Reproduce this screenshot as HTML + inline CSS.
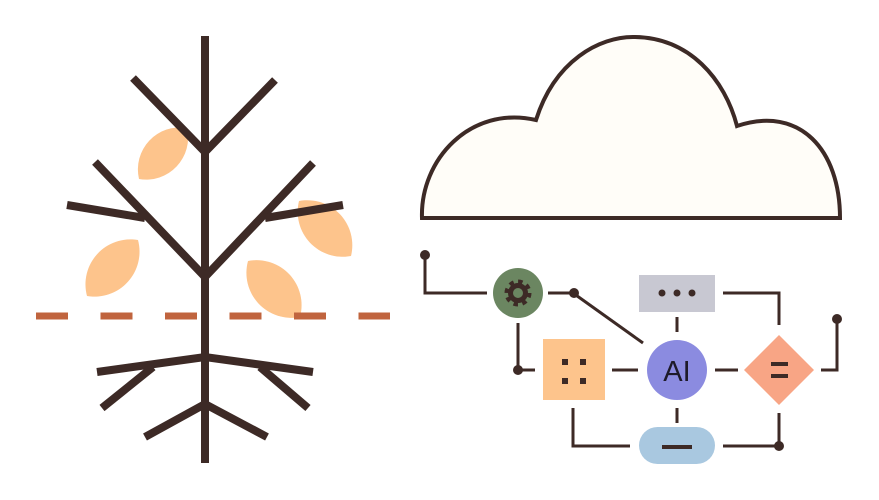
<!DOCTYPE html>
<html><head><meta charset="utf-8"><style>html,body{margin:0;padding:0;background:#fff;}svg{display:block}</style></head>
<body>
<svg width="879" height="500" viewBox="0 0 879 500" xmlns="http://www.w3.org/2000/svg">
<g fill="#fdc48c">
<path d="M139,179 A42,42 0 0 1 187,128 A42,42 0 0 1 139,179 Z"/>
<path d="M87,296 A45,45 0 0 1 138,240 A45,45 0 0 1 87,296 Z"/>
<path d="M299,201 A45,45 0 0 1 351,256 A45,45 0 0 1 299,201 Z"/>
<path d="M248,261 A45,45 0 0 1 300,317 A45,45 0 0 1 248,261 Z"/>
</g>
<line x1="36" y1="316" x2="390" y2="316" stroke="#c0643e" stroke-width="7" stroke-dasharray="32 32.5"/>
<g stroke="#3d2a26" stroke-width="8" fill="none" stroke-linejoin="miter">
<line x1="205" y1="36" x2="205" y2="463"/>
<polyline points="133,78 205,152 275,80"/>
<polyline points="95,162 205,277 313,163"/>
<line x1="67" y1="205" x2="145" y2="218"/>
<line x1="265" y1="218" x2="343" y2="205"/>
<polyline points="97,372 205,357 313,372"/>
<line x1="153" y1="367" x2="102" y2="408"/>
<line x1="260" y1="367" x2="308" y2="408"/>
<polyline points="145,437 205,404 267,437"/>
</g>
<path d="M422,218 C420,160 470,105 536,120 C555,60 600,37 633,37 C690,37 725,80 737,126 C800,105 840,150 840,218 Z" fill="#fffdf8" stroke="#3d2a26" stroke-width="4"/>
<g stroke="#3d2a26" stroke-width="3" fill="none">
<polyline points="425,255 425,293 487,293"/>
<line x1="548" y1="293" x2="575" y2="293"/>
<line x1="573" y1="293" x2="643" y2="343"/>
<polyline points="518,323 518,370 535,370"/>
<line x1="612" y1="370" x2="638" y2="370"/>
<line x1="677" y1="317" x2="677" y2="332"/>
<polyline points="723,293 779,293 779,325"/>
<line x1="715" y1="370" x2="738" y2="370"/>
<polyline points="821,370 837,370 837,319"/>
<line x1="677" y1="408" x2="677" y2="423"/>
<polyline points="573,408 573,446 630,446"/>
<polyline points="723,446 779,446 779,413"/>
</g>
<g fill="#3d2a26">
<circle cx="425" cy="255" r="5"/><circle cx="574" cy="293" r="5"/><circle cx="518" cy="370" r="5"/>
<circle cx="837" cy="319" r="5"/><circle cx="779" cy="446" r="5"/>
</g>
<circle cx="518" cy="293" r="25" fill="#6b8661"/>
<circle cx="518" cy="293" r="7.5" fill="none" stroke="#3d2a26" stroke-width="5"/>
<circle cx="518" cy="293" r="11" fill="none" stroke="#3d2a26" stroke-width="5" stroke-dasharray="4.3 4.3"/>
<rect x="543" y="339" width="62" height="61" fill="#fdc48c"/>
<g fill="#3d2a26"><rect x="562" y="359" width="6" height="6"/><rect x="580" y="359" width="6" height="6"/><rect x="562" y="378" width="6" height="6"/><rect x="580" y="378" width="6" height="6"/></g>
<rect x="639" y="275" width="76" height="37" fill="#c8c8d2"/>
<g fill="#3d2a26"><circle cx="662" cy="293" r="3.5"/><circle cx="677" cy="293" r="3.5"/><circle cx="692" cy="293" r="3.5"/></g>
<circle cx="677" cy="370" r="30" fill="#8b8be0"/>
<text x="677" y="381" text-anchor="middle" font-family="Liberation Sans, sans-serif" font-size="29" fill="#1e1a2a">AI</text>
<polygon points="779,335 814,370 779,405 744,370" fill="#f8a585"/>
<g fill="#3d2a26"><rect x="771" y="362" width="17" height="4"/><rect x="771" y="374" width="17" height="4"/></g>
<rect x="639" y="427" width="76" height="37" rx="18.5" fill="#a9c8e0"/>
<rect x="662" y="445" width="30" height="4" fill="#3d2a26"/>
</svg>
</body></html>
